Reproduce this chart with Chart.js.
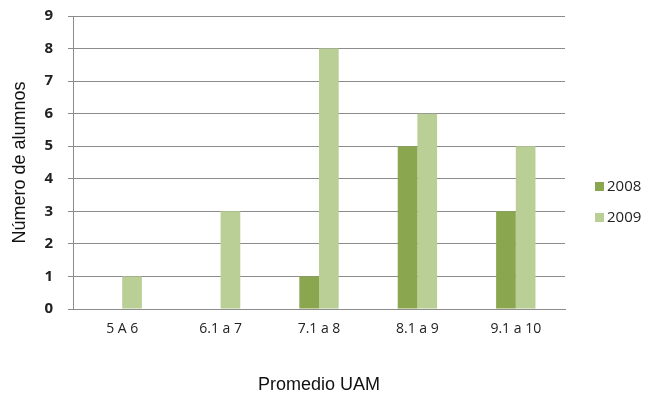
<!DOCTYPE html>
<html>
<head>
<meta charset="utf-8">
<script src="https://cdn.jsdelivr.net/npm/chart.js@4"></script>
<style>
html,body{margin:0;padding:0;background:#fff;}
#wrap{width:651px;height:396px;position:relative;}
</style>
</head>
<body>
<div id="wrap"><canvas id="c" width="651" height="396"></canvas></div>
<script>
const categories = ["5 A 6", "6.1 a 7", "7.1 a 8", "8.1 a 9", "9.1 a 10"];
const seriesNames = ["2008", "2009"];
const values2008 = [0, 0, 1, 5, 3];
const values2009 = [1, 3, 8, 6, 5];
const yTicks = [0, 1, 2, 3, 4, 5, 6, 7, 8, 9];
const colors = ["#8aa64e", "#b9cf95"];

const legendPlugin = {
  id: 'sideLegend',
  afterDraw(chart) {
    const ctx = chart.ctx;
    ctx.save();
    ctx.font = '15px "Open Sans", sans-serif';
    ctx.textBaseline = 'middle';
    const ys = [187, 218];
    chart.data.datasets.forEach((ds, i) => {
      ctx.fillStyle = ds.backgroundColor;
      ctx.fillRect(595, ys[i] - 5, 9, 9);
      ctx.fillStyle = '#222';
      ctx.fillText(ds.label, 607, ys[i]);
    });
    ctx.restore();
  }
};

new Chart(document.getElementById('c'), {
  type: 'bar',
  data: {
    labels: categories,
    datasets: [
      { label: seriesNames[0], data: values2008, backgroundColor: colors[0] },
      { label: seriesNames[1], data: values2009, backgroundColor: colors[1] }
    ]
  },
  options: {
    responsive: false,
    animation: false,
    devicePixelRatio: 1,
    layout: { padding: { left: 0, right: 86, top: 16, bottom: 0 } },
    plugins: { legend: { display: false }, tooltip: { enabled: false } },
    datasets: { bar: { categoryPercentage: 0.4, barPercentage: 1.0 } },
    scales: {
      x: {
        grid: { display: false },
        border: { display: true, color: '#8c8c8c', width: 1 },
        ticks: { color: '#222', font: { family: '"Open Sans", sans-serif', size: 14 }, padding: 4, maxRotation: 0 },
        title: { display: true, text: 'Promedio UAM', color: '#111', font: { family: '"Liberation Sans", Arial, sans-serif', size: 18 }, padding: { top: 24, bottom: 0 } },
        afterFit(s) { s.height = 87; s.paddingLeft = 0; s.paddingRight = 0; }
      },
      y: {
        min: 0, max: 9,
        afterBuildTicks(s) { s.ticks = yTicks.map(v => ({ value: v })); },
        grid: { color: '#8c8c8c', lineWidth: 1, drawTicks: true, tickLength: 5 },
        border: { display: true, color: '#8c8c8c', width: 1 },
        ticks: { color: '#222', font: { family: '"Open Sans", sans-serif', size: 15, weight: 'bold' }, padding: 15 },
        title: { display: true, text: 'Número de alumnos', color: '#111', font: { family: '"Liberation Sans", Arial, sans-serif', size: 18 }, padding: { top: 9, bottom: 0 } },
        afterFit(s) { s.width = 73; s.paddingTop = 0; s.paddingBottom = 0; }
      }
    }
  },
  plugins: [legendPlugin]
});
</script>
</body>
</html>
